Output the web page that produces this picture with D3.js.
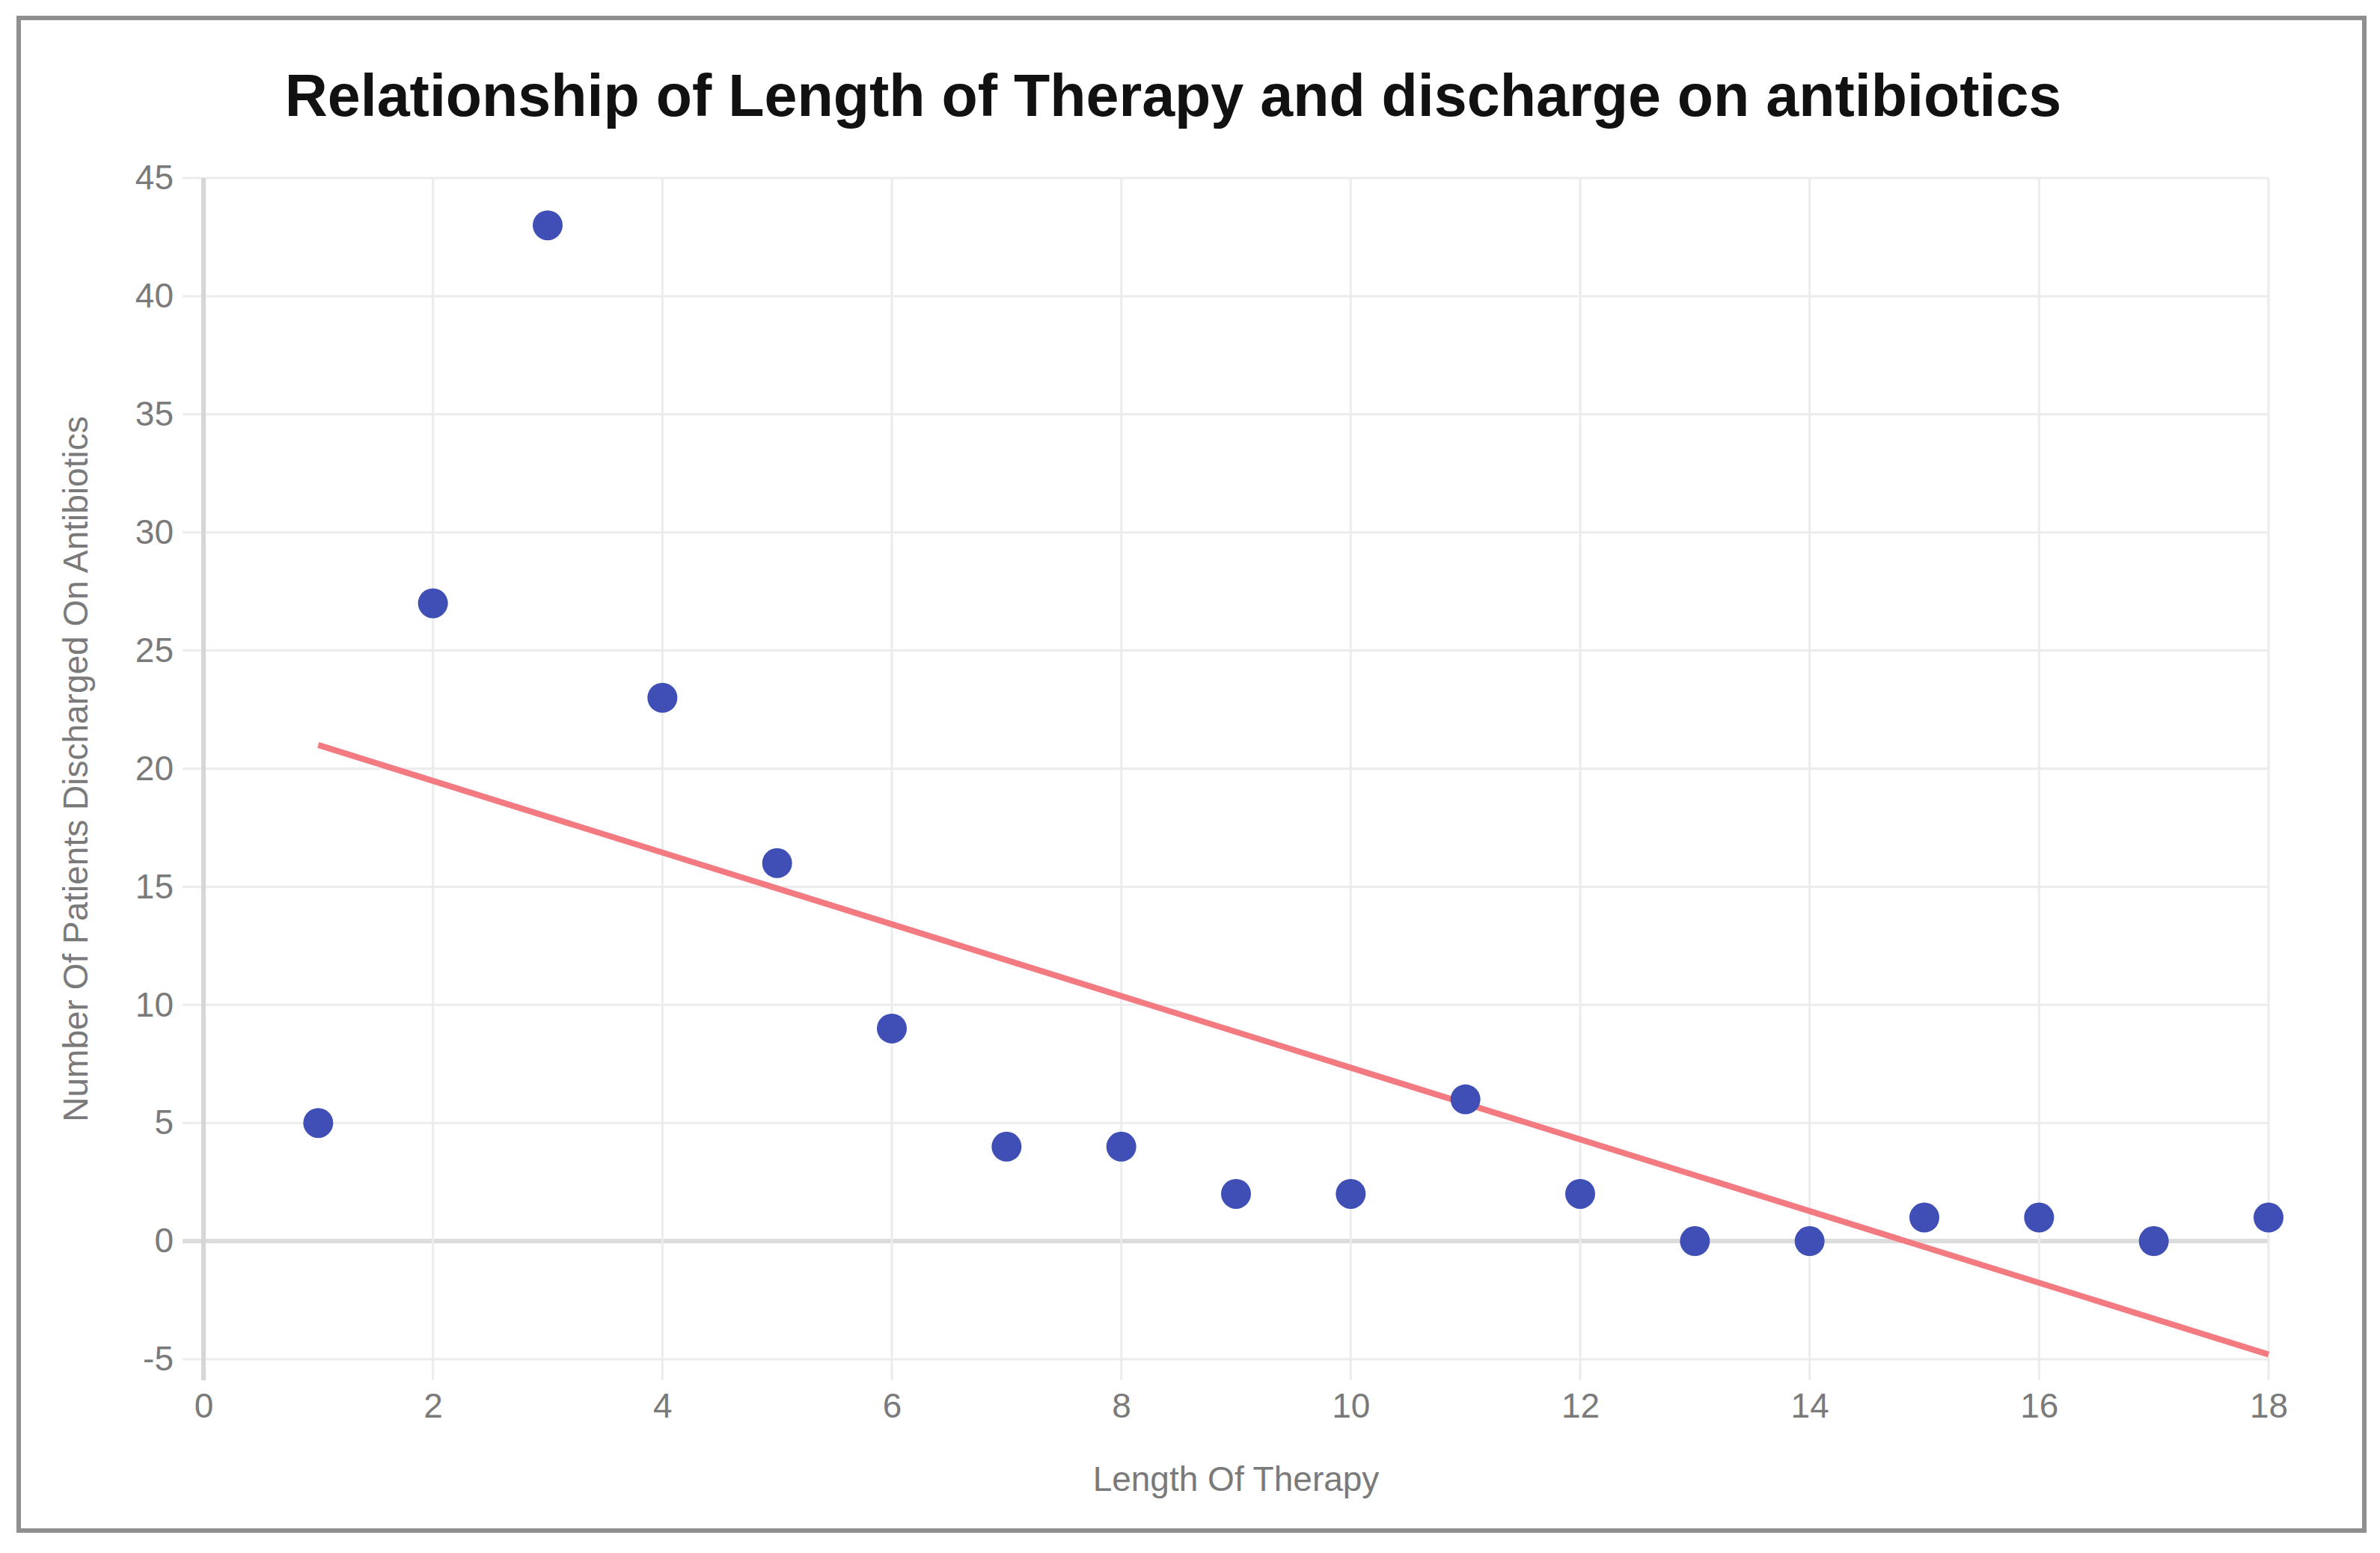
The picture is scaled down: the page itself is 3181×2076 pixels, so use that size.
<!DOCTYPE html>
<html>
<head>
<meta charset="utf-8">
<script src="https://cdn.jsdelivr.net/npm/d3@7"></script>
<style>
html,body{margin:0;padding:0;background:#fff;}
svg{display:block;}
</style>
</head>
<body>
<script>
// ---- Data ----
const therapyLength = [1,2,3,4,5,6,7,8,9,10,11,12,13,14,15,16,17,18];
const patientsDischarged = [5,27,43,23,16,9,4,4,2,2,6,2,0,0,1,1,0,1];
const trendX = [1, 18];
const trendY = [21.0, -4.8];
const xTicks = [0,2,4,6,8,10,12,14,16,18];
const yTicks = [-5,0,5,10,15,20,25,30,35,40,45];
const titleText = "Relationship of Length of Therapy and discharge on antibiotics";
const xTitle = "Length Of Therapy";
const yTitle = "Number Of Patients Discharged On Antibiotics";

const W = 3181, H = 2076;
const svg = d3.select("body").append("svg").attr("width", W).attr("height", H);
svg.append("rect").attr("width", W).attr("height", H).attr("fill", "#fff");

// frame
svg.append("rect").attr("x", 25).attr("y", 24).attr("width", 3135).attr("height", 2022)
  .attr("fill", "none").attr("stroke", "#8f8f8f").attr("stroke-width", 6);

const x = d3.scaleLinear().domain([0, 18]).range([272, 3032]);
const y = d3.scaleLinear().domain([-5, 45]).range([1817, 238]);

const font = "'Liberation Sans', Arial, Helvetica, sans-serif";

// grid
const g = svg.append("g");
g.selectAll("line.hg").data(yTicks).enter().append("line")
  .attr("x1", x(0) - 28).attr("x2", x(18))
  .attr("y1", d => y(d)).attr("y2", d => y(d))
  .attr("stroke", d => d === 0 ? "#dcdcdc" : "#ececec")
  .attr("stroke-width", d => d === 0 ? 6 : 3);
g.selectAll("line.vg").data(xTicks).enter().append("line")
  .attr("x1", d => x(d)).attr("x2", d => x(d))
  .attr("y1", y(45)).attr("y2", y(-5) + 28)
  .attr("stroke", d => d === 0 ? "#d6d6d6" : "#ececec")
  .attr("stroke-width", d => d === 0 ? 6 : 3);

// axes labels via d3 axes (domain hidden)
const fmt = d => String(d);
const xAxis = d3.axisBottom(x).tickValues(xTicks).tickFormat(fmt).tickSize(0).tickPadding(0);
const yAxis = d3.axisLeft(y).tickValues(yTicks).tickFormat(fmt).tickSize(0).tickPadding(0);
const xa = svg.append("g").attr("transform", `translate(0,${y(-5) + 45})`).call(xAxis);
const ya = svg.append("g").attr("transform", `translate(${x(0) - 40},0)`).call(yAxis);
[xa, ya].forEach(a => {
  a.select(".domain").remove();
  a.selectAll("text").attr("font-family", font).attr("font-size", 46).attr("fill", "#7a7a7a");
});
xa.selectAll("text").attr("dy", "0.71em");

// trend line
const line = d3.line().x((d, i) => x(trendX[i])).y(d => y(d));
svg.append("path").datum(trendY).attr("d", line)
  .attr("fill", "none").attr("stroke", "#f27a80").attr("stroke-width", 8);

// points
svg.selectAll("circle.pt").data(therapyLength).enter().append("circle")
  .attr("cx", d => x(d)).attr("cy", (d, i) => y(patientsDischarged[i]))
  .attr("r", 20).attr("fill", "#3f4fb5");

// titles
svg.append("text").attr("x", 1568).attr("y", 155).attr("text-anchor", "middle")
  .attr("font-family", font).attr("font-weight", "bold").attr("font-size", 79)
  .attr("fill", "#111").text(titleText);
svg.append("text").attr("x", (x(0) + x(18)) / 2).attr("y", 1993).attr("text-anchor", "middle")
  .attr("font-family", font).attr("font-size", 46).attr("fill", "#7a7a7a").text(xTitle);
svg.append("text").attr("transform", `translate(117,1028) rotate(-90)`).attr("text-anchor", "middle")
  .attr("font-family", font).attr("font-size", 46).attr("fill", "#7a7a7a").text(yTitle);
</script>
</body>
</html>
